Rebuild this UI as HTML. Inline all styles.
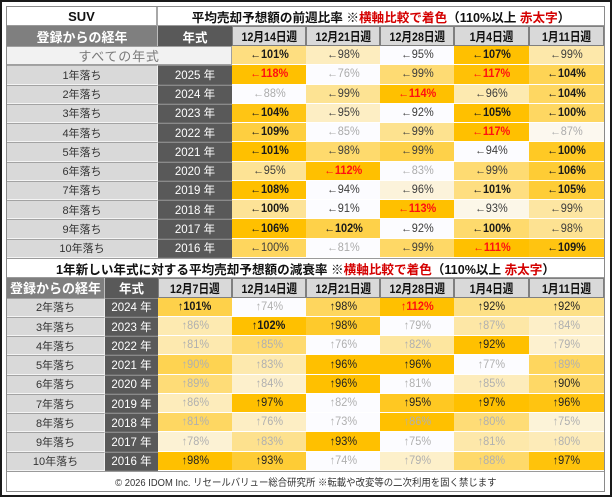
<!DOCTYPE html>
<html><head><meta charset="utf-8"><style>
*{margin:0;padding:0;box-sizing:border-box}
html,body{width:612px;height:499px;background:#fff;overflow:hidden;font-family:"Liberation Sans","Noto Sans CJK JP",sans-serif}
.frame{position:absolute;left:0;top:0;width:612px;height:497px;border:2.6px solid #1a1a1a}
.g{position:absolute;left:7px;display:grid}
.g1{top:7px;width:597px;grid-template-columns:151px 74px 74px 74px 74px 75px 75px;grid-template-rows:19px 20px repeat(11,19.27px)}
.g2{top:258px;width:597px;grid-template-columns:98px 53px 74px 74px 74px 74px 75px 75px;grid-template-rows:20px 19.7px repeat(9,19.25px) 20px}
.g>div{display:flex;align-items:center;justify-content:center;white-space:nowrap;overflow:hidden}
.s{display:inline-block;transform:scaleX(.86);white-space:nowrap}
.v{display:inline-block;transform:scaleX(.95);white-space:nowrap}
.t{background:#fff;font-weight:bold;font-size:12.6px;color:#111;border-bottom:1px solid #9a9a9a}
.suv{border-right:2px solid #a8a8a8;font-size:13px}
.red{color:#d40000}
.hl{background:#7f7f7f;color:#fff;font-weight:bold;font-size:13px;border-right:1px solid #bdbdbd}
.hy{background:#595959;color:#fff;font-weight:bold;font-size:12.5px}
.dh{background:#d9d9d9;color:#111;font-weight:bold;font-size:12.4px;border:1px solid #7f7f7f}
.all{grid-column:span 2;background:#f2f2f2;color:#7a7a7a;font-size:13px;letter-spacing:.8px;border-top:1px solid #a0a0a0;border-bottom:1px solid #a0a0a0;border-right:1px solid #a0a0a0}
.lab{background:#d9d9d9;color:#333;font-size:11px;border-top:1px solid #a3a3a3;border-bottom:1px solid #f4f4f4;border-right:1px solid #f0f0f0}
.yr{background:#595959;color:#fff;font-size:11.5px;border-top:1px solid #8a8a8a;border-bottom:1px solid #6a6a6a}
.d{font-size:11.5px;border-bottom:1.5px solid #fff}
.b{color:#1a1a1a;font-weight:bold}
.n{color:#3c3c3c}
.l{color:#ababab}
.r{color:#ff1010;font-weight:bold}
.g2 .n{color:#222}
.g2 .l{color:#b0b0b0}
.foot{grid-column:span 8;background:#fff;color:#333;font-size:10px;border-top:1px solid #9a9a9a}
.box{position:absolute;left:6px;top:6px;width:599px;height:486px;border:1.5px solid #8a8a8a;pointer-events:none}
</style></head><body>
<div class="frame"></div>

<div class="g g1">
<div class="t suv">SUV</div>
<div class="t" style="grid-column:span 6">平均売却予想額の前週比率 ※<span class="red">横軸比較で着色</span>（110%以上&nbsp;<span class="red">赤太字</span>）</div>

<div class="hl">登録からの経年</div><div class="hy">年式</div>
<div class="dh"><span class="s">12月14日週</span></div><div class="dh"><span class="s">12月21日週</span></div><div class="dh"><span class="s">12月28日週</span></div><div class="dh"><span class="s">1月4日週</span></div><div class="dh"><span class="s">1月11日週</span></div>

<div class="all">すべての年式</div>
<div class="d b" style="background:#fede80"><span class="v">←101%</span></div><div class="d n" style="background:#fdedbf"><span class="v">←98%</span></div><div class="d n" style="background:#fcfcff"><span class="v">←95%</span></div><div class="d b" style="background:#ffc000"><span class="v">←107%</span></div><div class="d n" style="background:#fde8aa"><span class="v">←99%</span></div>

<div class="lab">1年落ち</div><div class="yr">2025 年</div>
<div class="d r" style="background:#ffc000"><span class="v">←118%</span></div><div class="d l" style="background:#fcfcff"><span class="v">←76%</span></div><div class="d n" style="background:#fedb73"><span class="v">←99%</span></div><div class="d r" style="background:#ffc106"><span class="v">←117%</span></div><div class="d b" style="background:#fed455"><span class="v">←104%</span></div>

<div class="lab">2年落ち</div><div class="yr">2024 年</div>
<div class="d l" style="background:#fcfcff"><span class="v">←88%</span></div><div class="d n" style="background:#fde393"><span class="v">←99%</span></div><div class="d r" style="background:#ffc000"><span class="v">←114%</span></div><div class="d n" style="background:#fdeab0"><span class="v">←96%</span></div><div class="d b" style="background:#fed762"><span class="v">←104%</span></div>

<div class="lab">3年落ち</div><div class="yr">2023 年</div>
<div class="d b" style="background:#ffc514"><span class="v">←104%</span></div><div class="d n" style="background:#fdeec4"><span class="v">←95%</span></div><div class="d n" style="background:#fcfcff"><span class="v">←92%</span></div><div class="d b" style="background:#ffc000"><span class="v">←105%</span></div><div class="d b" style="background:#fed762"><span class="v">←100%</span></div>

<div class="lab">4年落ち</div><div class="yr">2022 年</div>
<div class="d b" style="background:#fecf40"><span class="v">←109%</span></div><div class="d l" style="background:#fcfcff"><span class="v">←85%</span></div><div class="d n" style="background:#fde28f"><span class="v">←99%</span></div><div class="d r" style="background:#ffc000"><span class="v">←117%</span></div><div class="d l" style="background:#fcf8ef"><span class="v">←87%</span></div>

<div class="lab">5年落ち</div><div class="yr">2021 年</div>
<div class="d b" style="background:#ffc000"><span class="v">←101%</span></div><div class="d n" style="background:#feda6d"><span class="v">←98%</span></div><div class="d n" style="background:#fed149"><span class="v">←99%</span></div><div class="d n" style="background:#fcfcff"><span class="v">←94%</span></div><div class="d b" style="background:#ffc924"><span class="v">←100%</span></div>

<div class="lab">6年落ち</div><div class="yr">2020 年</div>
<div class="d n" style="background:#fde395"><span class="v">←95%</span></div><div class="d r" style="background:#ffc000"><span class="v">←112%</span></div><div class="d l" style="background:#fcfcff"><span class="v">←83%</span></div><div class="d n" style="background:#fedb72"><span class="v">←99%</span></div><div class="d b" style="background:#fecc35"><span class="v">←106%</span></div>

<div class="lab">7年落ち</div><div class="yr">2019 年</div>
<div class="d b" style="background:#ffc000"><span class="v">←108%</span></div><div class="d n" style="background:#fcfcff"><span class="v">←94%</span></div><div class="d n" style="background:#fcf3db"><span class="v">←96%</span></div><div class="d b" style="background:#fede80"><span class="v">←101%</span></div><div class="d b" style="background:#fecd37"><span class="v">←105%</span></div>

<div class="lab">8年落ち</div><div class="yr">2018 年</div>
<div class="d b" style="background:#fde397"><span class="v">←100%</span></div><div class="d n" style="background:#fcfcff"><span class="v">←91%</span></div><div class="d r" style="background:#ffc000"><span class="v">←113%</span></div><div class="d n" style="background:#fcf7e8"><span class="v">←93%</span></div><div class="d n" style="background:#fde6a2"><span class="v">←99%</span></div>

<div class="lab">9年落ち</div><div class="yr">2017 年</div>
<div class="d b" style="background:#ffc000"><span class="v">←106%</span></div><div class="d b" style="background:#fed149"><span class="v">←102%</span></div><div class="d n" style="background:#fcfcff"><span class="v">←92%</span></div><div class="d b" style="background:#feda6d"><span class="v">←100%</span></div><div class="d n" style="background:#fde292"><span class="v">←98%</span></div>

<div class="lab">10年落ち</div><div class="yr">2016 年</div>
<div class="d n" style="background:#fed65e"><span class="v">←100%</span></div><div class="d l" style="background:#fcfcff"><span class="v">←81%</span></div><div class="d n" style="background:#fed866"><span class="v">←99%</span></div><div class="d r" style="background:#ffc000"><span class="v">←111%</span></div><div class="d b" style="background:#ffc411"><span class="v">←109%</span></div>
</div>

<div class="g g2">
<div class="t" style="grid-column:span 8;border-top:1px solid #9a9a9a">1年新しい年式に対する平均売却予想額の減衰率 ※<span class="red">横軸比較で着色</span>（110%以上&nbsp;<span class="red">赤太字</span>）</div>

<div class="hl">登録からの経年</div><div class="hy">年式</div>
<div class="dh"><span class="s">12月7日週</span></div><div class="dh"><span class="s">12月14日週</span></div><div class="dh"><span class="s">12月21日週</span></div><div class="dh"><span class="s">12月28日週</span></div><div class="dh"><span class="s">1月4日週</span></div><div class="dh"><span class="s">1月11日週</span></div>

<div class="lab">2年落ち</div><div class="yr">2024 年</div>
<div class="d b" style="background:#fed14a"><span class="v">↑101%</span></div><div class="d l" style="background:#fcfcff"><span class="v">↑74%</span></div><div class="d n" style="background:#fed65e"><span class="v">↑98%</span></div><div class="d r" style="background:#ffc000"><span class="v">↑112%</span></div><div class="d n" style="background:#fde086"><span class="v">↑92%</span></div><div class="d n" style="background:#fde086"><span class="v">↑92%</span></div>

<div class="lab">3年落ち</div><div class="yr">2023 年</div>
<div class="d l" style="background:#fdeab1"><span class="v">↑86%</span></div><div class="d b" style="background:#ffc000"><span class="v">↑102%</span></div><div class="d n" style="background:#feca2c"><span class="v">↑98%</span></div><div class="d l" style="background:#fcfcff"><span class="v">↑79%</span></div><div class="d l" style="background:#fde7a6"><span class="v">↑87%</span></div><div class="d l" style="background:#fdefc8"><span class="v">↑84%</span></div>

<div class="lab">4年落ち</div><div class="yr">2022 年</div>
<div class="d l" style="background:#fde9af"><span class="v">↑81%</span></div><div class="d l" style="background:#feda70"><span class="v">↑85%</span></div><div class="d l" style="background:#fcfcff"><span class="v">↑76%</span></div><div class="d l" style="background:#fde69f"><span class="v">↑82%</span></div><div class="d n" style="background:#ffc000"><span class="v">↑92%</span></div><div class="d l" style="background:#fdf1cf"><span class="v">↑79%</span></div>

<div class="lab">5年落ち</div><div class="yr">2021 年</div>
<div class="d l" style="background:#fed351"><span class="v">↑90%</span></div><div class="d l" style="background:#fde9ae"><span class="v">↑83%</span></div><div class="d n" style="background:#ffc000"><span class="v">↑96%</span></div><div class="d n" style="background:#ffc000"><span class="v">↑96%</span></div><div class="d l" style="background:#fcfcff"><span class="v">↑77%</span></div><div class="d l" style="background:#fed65e"><span class="v">↑89%</span></div>

<div class="lab">6年落ち</div><div class="yr">2020 年</div>
<div class="d l" style="background:#fedc77"><span class="v">↑89%</span></div><div class="d l" style="background:#fdf0cc"><span class="v">↑84%</span></div><div class="d n" style="background:#ffc000"><span class="v">↑96%</span></div><div class="d l" style="background:#fcfcff"><span class="v">↑81%</span></div><div class="d l" style="background:#fdecbb"><span class="v">↑85%</span></div><div class="d n" style="background:#fed866"><span class="v">↑90%</span></div>

<div class="lab">7年落ち</div><div class="yr">2019 年</div>
<div class="d l" style="background:#fdecbb"><span class="v">↑86%</span></div><div class="d n" style="background:#ffc000"><span class="v">↑97%</span></div><div class="d l" style="background:#fcfcff"><span class="v">↑82%</span></div><div class="d n" style="background:#ffc822"><span class="v">↑95%</span></div><div class="d n" style="background:#ffc000"><span class="v">↑97%</span></div><div class="d n" style="background:#ffc411"><span class="v">↑96%</span></div>

<div class="lab">8年落ち</div><div class="yr">2018 年</div>
<div class="d l" style="background:#fed762"><span class="v">↑81%</span></div><div class="d l" style="background:#fdeec4"><span class="v">↑76%</span></div><div class="d l" style="background:#fcfcff"><span class="v">↑73%</span></div><div class="d l" style="background:#ffc000"><span class="v">↑86%</span></div><div class="d l" style="background:#fedc76"><span class="v">↑80%</span></div><div class="d l" style="background:#fcf3d8"><span class="v">↑75%</span></div>

<div class="lab">9年落ち</div><div class="yr">2017 年</div>
<div class="d l" style="background:#fcf2d4"><span class="v">↑78%</span></div><div class="d l" style="background:#fde18e"><span class="v">↑83%</span></div><div class="d n" style="background:#ffc000"><span class="v">↑93%</span></div><div class="d l" style="background:#fcfcff"><span class="v">↑75%</span></div><div class="d l" style="background:#fde8aa"><span class="v">↑81%</span></div><div class="d l" style="background:#fdebb8"><span class="v">↑80%</span></div>

<div class="lab">10年落ち</div><div class="yr">2016 年</div>
<div class="d n" style="background:#ffc000"><span class="v">↑98%</span></div><div class="d n" style="background:#fecc35"><span class="v">↑93%</span></div><div class="d l" style="background:#fcfcff"><span class="v">↑74%</span></div><div class="d l" style="background:#fdf0ca"><span class="v">↑79%</span></div><div class="d l" style="background:#fed96a"><span class="v">↑88%</span></div><div class="d n" style="background:#ffc30b"><span class="v">↑97%</span></div>

<div class="foot"><span class="s" style="transform:scaleX(.94)">© 2026 IDOM Inc. リセールバリュー総合研究所 ※転載や改変等の二次利用を固く禁じます</span></div>
</div>

<div class="box"></div>
</body></html>
